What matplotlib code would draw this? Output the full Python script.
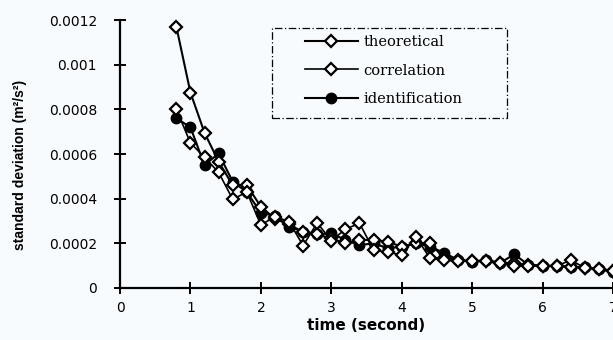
import matplotlib.pyplot as plt
from matplotlib.patches import Rectangle

# time axis: one point every 0.2 s from 0.8 to 7.0
time = [0.8, 1.0, 1.2, 1.4, 1.6, 1.8, 2.0, 2.2, 2.4, 2.6, 2.8, 3.0, 3.2, 3.4, 3.6, 3.8,
        4.0, 4.2, 4.4, 4.6, 4.8, 5.0, 5.2, 5.4, 5.6, 5.8, 6.0, 6.2, 6.4, 6.6, 6.8, 7.0]

theoretical = [0.00117, 0.000875, 0.000695, 0.000566, 0.00046, 0.000461, 0.000364, 0.00031,
               0.000285, 0.00025, 0.00024, 0.000222, 0.0002, 0.000215, 0.000215, 0.000207,
               0.000185, 0.0002, 0.0002, 0.000135, 0.000125, 0.00012, 0.00012, 0.000113,
               0.00011, 0.000103, 0.0001, 0.000098, 0.000095, 0.00009, 0.000084, 0.000075]

correlation = [0.0008, 0.00065, 0.000585, 0.000518, 0.000397, 0.00043, 0.000282, 0.00032,
               0.000297, 0.00019, 0.000292, 0.000212, 0.000263, 0.00029, 0.00017, 0.00016,
               0.000148, 0.00023, 0.000133, 0.000125, 0.00012, 0.00012, 0.00012, 0.00011,
               0.0000985, 0.0001, 0.0001, 0.000098, 0.000125, 0.00009, 0.000085, 0.000075]

identification = [0.00076, 0.00072, 0.00055, 0.000603, 0.000476, 0.00043, 0.000337, 0.000322,
                  0.000275, 0.000252, 0.00024, 0.000245, 0.000215, 0.000192, 0.0002, 0.000178,
                  0.000185, 0.0002, 0.000185, 0.000158, 0.000125, 0.000118, 0.000125, 0.000113,
                  0.000151, 0.000103, 0.0000985, 0.0000985, 0.000095, 0.000092, 0.000084, 0.000073]

x_ticks = [0, 1, 2, 3, 4, 5, 6, 7]
y_ticks = [0, 0.0002, 0.0004, 0.0006, 0.0008, 0.001, 0.0012]
y_labels = ['0', '0.0002', '0.0004', '0.0006', '0.0008', '0.001', '0.0012']

bg = '#f8fbfd'
fig = plt.figure(figsize=(6.13, 3.4), dpi=100, facecolor=bg)
ax = fig.add_axes([0.1958, 0.153, 0.8042, 0.788], facecolor=bg)

ax.plot(time, theoretical, color='black', lw=1.5, marker='D', ms=6.5,
        mfc='white', mec='black', mew=1.6, label='theoretical', clip_on=False, zorder=3)
ax.plot(time, correlation, color='black', lw=1.2, marker='D', ms=6.5,
        mfc='white', mec='black', mew=1.6, label='correlation', clip_on=False, zorder=3)
ax.plot(time, identification, color='black', lw=1.5, marker='o', ms=7.5,
        mfc='black', mec='black', label='identification', clip_on=False, zorder=2)

ax.set_xlim(0, 7)
ax.set_ylim(0, 0.0012)
ax.set_xticks(x_ticks)
ax.set_yticks(y_ticks)
ax.set_yticklabels(y_labels)

for s in ['top', 'right']:
    ax.spines[s].set_visible(False)
for s in ['left', 'bottom']:
    ax.spines[s].set_linewidth(1.6)
ax.tick_params(direction='inout', length=9, width=1.4, labelsize=10,
               labelfontfamily='DejaVu Sans')
ax.tick_params(axis='y', pad=12)
ax.tick_params(axis='x', pad=5)

ax.set_ylabel('standard deviation (m²/s²)', fontsize=10, fontweight='bold',
              family='Liberation Sans')
ax.yaxis.set_label_coords(-0.189, 0.459)
ax.set_xlabel('time (second)', fontsize=11, fontweight='bold', family='DejaVu Sans')
ax.xaxis.set_label_coords(0.5, -0.112)

# legend content without frame; dashed frame drawn separately
leg = ax.legend(bbox_to_anchor=(0.4976, 0.897), bbox_transform=fig.transFigure,
                loc='upper left', borderaxespad=0, borderpad=0, frameon=False,
                handlelength=3.6, handletextpad=0.4, labelspacing=1.0,
                prop={'family': 'DejaVu Serif', 'size': 10.5})
fig.patches.append(Rectangle((0.4437, 0.653), 0.3835, 0.265, transform=fig.transFigure,
                             fill=False, edgecolor='black', lw=0.9,
                             linestyle=(0, (6, 2, 1, 2))))

fig.savefig('out.png', dpi=100, facecolor=bg)
